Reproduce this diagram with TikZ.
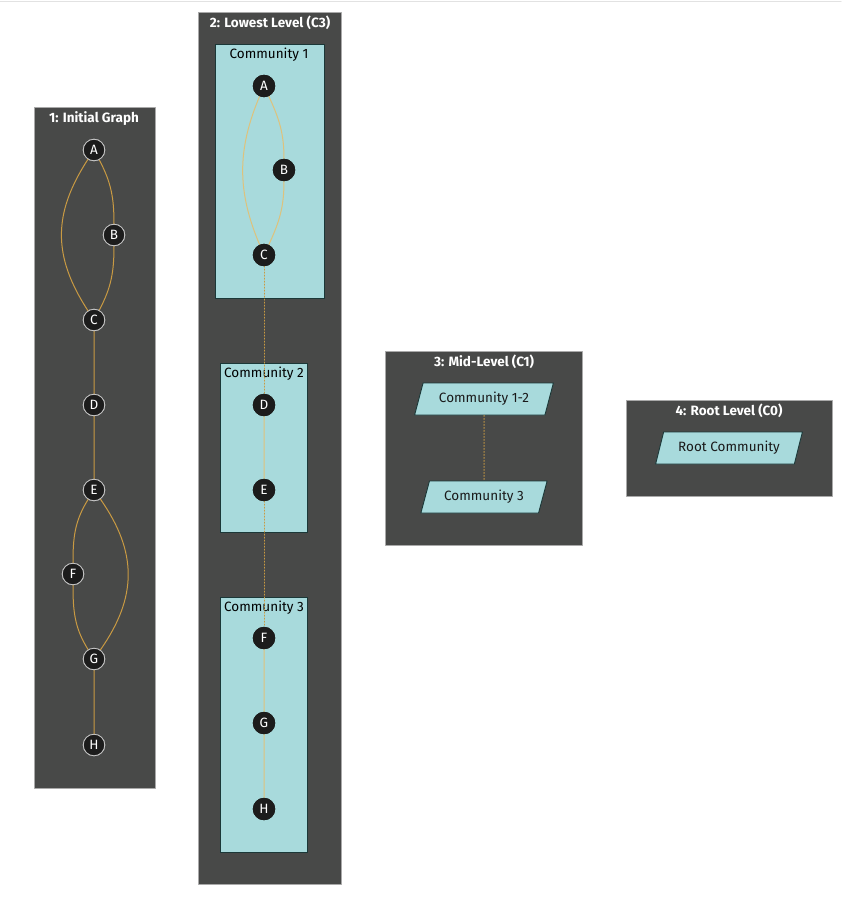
\documentclass[tikz,border=0pt]{standalone}
\usepackage{fontspec}
\setmainfont{Fira Sans}
\usepackage{tikz}
\usetikzlibrary{shapes.geometric,positioning,calc}

\definecolor{panelbg}{HTML}{484948}
\definecolor{panelline}{HTML}{A9A9A9}
\definecolor{commbg}{HTML}{A8DADC}
\definecolor{commline}{HTML}{1B3838}
\definecolor{vertbg}{HTML}{1C1C1C}
\definecolor{edgegold}{HTML}{C99A43}
\definecolor{edgepale}{HTML}{DEC27C}
\definecolor{topline}{HTML}{E2E2E2}

\begin{document}
\begin{tikzpicture}[x=1pt,y=1pt,line join=round,line cap=round,
    panel/.style={draw=panelline,fill=panelbg,line width=0.8pt},
    commbox/.style={draw=commline,fill=commbg,line width=0.9pt},
    paneltitle/.style={text=white,font=\fontsize{13.5}{15}\selectfont\bfseries},
    commtitle/.style={text=black,font=\fontsize{13.5}{15}\selectfont},
    vert/.style={circle,fill=vertbg,draw=#1,line width=0.8pt,minimum size=21.5pt,
      inner sep=0pt,text=white,font=\fontsize{13.5}{15}\selectfont},
    vert/.default={gray!45},
    cluster/.style={trapezium,trapezium left angle=65,trapezium right angle=115,
      trapezium stretches=true,
      draw=commline,fill=commbg,line width=0.9pt,minimum height=32pt,inner sep=0pt,
      text=black!90,font=\fontsize{13.5}{15}\selectfont},
    solidedge/.style={draw=edgegold,line width=1pt},
    paleedge/.style={draw=edgepale,line width=1pt},
    linkedge/.style={draw=edgegold,line width=1pt,dotted}]

  \useasboundingbox (0,0) rectangle (841,-902);
  \fill[white] (0,0) rectangle (841,-902);
  \draw[topline,line width=1pt] (0,-1) -- (841,-1);

  % 1: initial graph
  \draw[panel] (34,-107) rectangle (155,-788);
  \node[paneltitle] at (94,-118.5) {1: Initial Graph};
  \node[vert] (a1) at (94,-150) {A};
  \node[vert] (b1) at (114,-235) {B};
  \node[vert] (c1) at (94,-320) {C};
  \node[vert] (d1) at (94,-405) {D};
  \node[vert] (e1) at (94,-490) {E};
  \node[vert] (f1) at (73,-574) {F};
  \node[vert] (g1) at (94,-659) {G};
  \node[vert] (h1) at (94,-745) {H};
  \path[solidedge] (a1) to[out=237,in=123,looseness=1.1] (c1)
    (a1) to[out=-62,in=90] (b1) (b1) to[out=-90,in=62] (c1)
    (c1) -- (d1) (d1) -- (e1)
    (e1) to[out=238,in=90] (f1) (f1) to[out=-90,in=122] (g1)
    (e1) to[out=-55,in=55,looseness=1.1] (g1)
    (g1) -- (h1);
  \foreach \v/\p in {a1/A,b1/B,c1/C,d1/D,e1/E,f1/F,g1/G,h1/H}
    \node[vert] at (\v) {\p};

  % 2: lowest level
  \draw[panel] (198,-12) rectangle (341,-884);
  \node[paneltitle] at (270,-22.5) {2: Lowest Level (C3)};
  \draw[commbox] (215,-44) rectangle (324,-298);
  \draw[commbox] (220,-363) rectangle (307,-532);
  \draw[commbox] (220,-597) rectangle (307,-852);
  \node[commtitle] (comm1) at (269,-54.5) {Community 1};
  \node[commtitle] (comm2) at (264,-373.5) {Community 2};
  \node[commtitle] (comm3) at (264,-607.5) {Community 3};
  \node[vert=vertbg] (a2) at (264,-86) {A};
  \node[vert=vertbg] (b2) at (284,-170) {B};
  \node[vert=vertbg] (c2) at (264,-255) {C};
  \node[vert=vertbg] (d2) at (264,-405) {D};
  \node[vert=vertbg] (e2) at (264,-490) {E};
  \node[vert=vertbg] (f2) at (264,-638) {F};
  \node[vert=vertbg] (g2) at (264,-723) {G};
  \node[vert=vertbg] (h2) at (264,-809) {H};
  \path[paleedge] (a2) to[out=247,in=113] (c2)
    (a2) to[out=-65,in=90] (b2) (b2) to[out=-90,in=65] (c2)
    (d2) -- (e2) (f2) -- (g2) (g2) -- (h2);
  \path[linkedge] (c2) -- (d2) (e2) -- (f2);
  \foreach \v/\p in {a2/A,b2/B,c2/C,d2/D,e2/E,f2/F,g2/G,h2/H}
    \node[vert=vertbg] at (\v) {\p};

  % 3: mid level
  \draw[panel] (385,-351) rectangle (582,-545);
  \node[paneltitle] at (484,-361.5) {3: Mid-Level (C1)};
  \node[cluster,minimum width=139pt] (c12) at (484,-399) {Community 1-2};
  \node[cluster,minimum width=127pt] (c3) at (484,-497) {Community 3};
  \path[linkedge] (c12) -- (c3);

  % 4: root level
  \draw[panel] (626,-400) rectangle (832,-496);
  \node[paneltitle] at (729,-410.5) {4: Root Level (C0)};
  \node[cluster,minimum width=147pt] (root) at (729,-448) {Root Community};
\end{tikzpicture}
\end{document}
